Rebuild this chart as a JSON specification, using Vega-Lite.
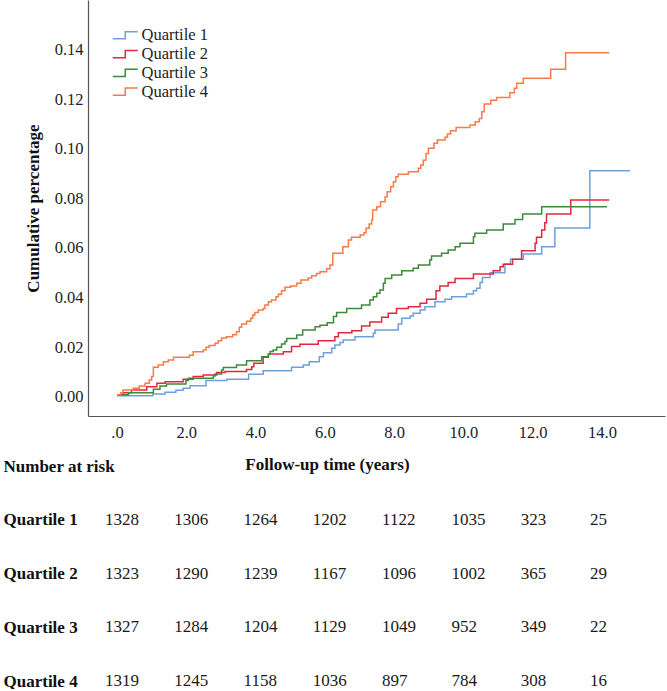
{
  "$schema": "https://vega.github.io/schema/vega-lite/v6.json",
  "background": "white",
  "padding": {"left": 3, "top": 0, "right": 2, "bottom": 0},
  "bounds": "flush",
  "spacing": 50,
  "config": {"view": {"stroke": null}, "font": "Liberation Serif"},
  "datasets": {
    "km": [
      {"g": "Quartile 1", "t": 0, "v": 0.0004},
      {"g": "Quartile 1", "t": 1.03, "v": 0.0011},
      {"g": "Quartile 1", "t": 1.39, "v": 0.0018},
      {"g": "Quartile 1", "t": 1.70, "v": 0.0026},
      {"g": "Quartile 1", "t": 1.91, "v": 0.0034},
      {"g": "Quartile 1", "t": 2.11, "v": 0.0044},
      {"g": "Quartile 1", "t": 2.57, "v": 0.0065},
      {"g": "Quartile 1", "t": 3.17, "v": 0.0070},
      {"g": "Quartile 1", "t": 3.80, "v": 0.0090},
      {"g": "Quartile 1", "t": 4.22, "v": 0.0105},
      {"g": "Quartile 1", "t": 5.04, "v": 0.0119},
      {"g": "Quartile 1", "t": 5.38, "v": 0.0128},
      {"g": "Quartile 1", "t": 5.55, "v": 0.0141},
      {"g": "Quartile 1", "t": 5.84, "v": 0.0161},
      {"g": "Quartile 1", "t": 5.96, "v": 0.0177},
      {"g": "Quartile 1", "t": 6.20, "v": 0.0195},
      {"g": "Quartile 1", "t": 6.29, "v": 0.0208},
      {"g": "Quartile 1", "t": 6.44, "v": 0.0218},
      {"g": "Quartile 1", "t": 6.53, "v": 0.0229},
      {"g": "Quartile 1", "t": 6.87, "v": 0.0242},
      {"g": "Quartile 1", "t": 7.40, "v": 0.0256},
      {"g": "Quartile 1", "t": 7.45, "v": 0.0269},
      {"g": "Quartile 1", "t": 8.12, "v": 0.0293},
      {"g": "Quartile 1", "t": 8.22, "v": 0.0316},
      {"g": "Quartile 1", "t": 8.46, "v": 0.0325},
      {"g": "Quartile 1", "t": 8.55, "v": 0.0336},
      {"g": "Quartile 1", "t": 8.75, "v": 0.0350},
      {"g": "Quartile 1", "t": 8.89, "v": 0.0363},
      {"g": "Quartile 1", "t": 9.18, "v": 0.0383},
      {"g": "Quartile 1", "t": 9.47, "v": 0.0393},
      {"g": "Quartile 1", "t": 9.66, "v": 0.0403},
      {"g": "Quartile 1", "t": 10.09, "v": 0.0414},
      {"g": "Quartile 1", "t": 10.29, "v": 0.0427},
      {"g": "Quartile 1", "t": 10.38, "v": 0.0437},
      {"g": "Quartile 1", "t": 10.48, "v": 0.0460},
      {"g": "Quartile 1", "t": 10.55, "v": 0.0481},
      {"g": "Quartile 1", "t": 10.77, "v": 0.0500},
      {"g": "Quartile 1", "t": 11.20, "v": 0.0535},
      {"g": "Quartile 1", "t": 11.36, "v": 0.0554},
      {"g": "Quartile 1", "t": 11.73, "v": 0.0575},
      {"g": "Quartile 1", "t": 12.26, "v": 0.0605},
      {"g": "Quartile 1", "t": 12.64, "v": 0.0680},
      {"g": "Quartile 1", "t": 13.65, "v": 0.0911},
      {"g": "Quartile 1", "t": 14.81, "v": 0.0911},

      {"g": "Quartile 2", "t": 0, "v": 0.0008},
      {"g": "Quartile 2", "t": 0.18, "v": 0.0016},
      {"g": "Quartile 2", "t": 0.42, "v": 0.0027},
      {"g": "Quartile 2", "t": 0.86, "v": 0.0040},
      {"g": "Quartile 2", "t": 1.15, "v": 0.0054},
      {"g": "Quartile 2", "t": 1.39, "v": 0.0060},
      {"g": "Quartile 2", "t": 1.91, "v": 0.0070},
      {"g": "Quartile 2", "t": 2.20, "v": 0.0081},
      {"g": "Quartile 2", "t": 2.49, "v": 0.0087},
      {"g": "Quartile 2", "t": 2.88, "v": 0.0097},
      {"g": "Quartile 2", "t": 3.12, "v": 0.0101},
      {"g": "Quartile 2", "t": 3.74, "v": 0.0110},
      {"g": "Quartile 2", "t": 3.89, "v": 0.0121},
      {"g": "Quartile 2", "t": 3.95, "v": 0.0135},
      {"g": "Quartile 2", "t": 4.22, "v": 0.0159},
      {"g": "Quartile 2", "t": 4.37, "v": 0.0172},
      {"g": "Quartile 2", "t": 4.80, "v": 0.0181},
      {"g": "Quartile 2", "t": 5.04, "v": 0.0202},
      {"g": "Quartile 2", "t": 5.28, "v": 0.0211},
      {"g": "Quartile 2", "t": 5.81, "v": 0.0226},
      {"g": "Quartile 2", "t": 6.29, "v": 0.0242},
      {"g": "Quartile 2", "t": 6.39, "v": 0.0258},
      {"g": "Quartile 2", "t": 6.78, "v": 0.0266},
      {"g": "Quartile 2", "t": 7.06, "v": 0.0285},
      {"g": "Quartile 2", "t": 7.30, "v": 0.0301},
      {"g": "Quartile 2", "t": 7.64, "v": 0.0320},
      {"g": "Quartile 2", "t": 7.83, "v": 0.0336},
      {"g": "Quartile 2", "t": 8.07, "v": 0.0356},
      {"g": "Quartile 2", "t": 8.41, "v": 0.0363},
      {"g": "Quartile 2", "t": 8.75, "v": 0.0377},
      {"g": "Quartile 2", "t": 8.94, "v": 0.0393},
      {"g": "Quartile 2", "t": 9.21, "v": 0.0427},
      {"g": "Quartile 2", "t": 9.32, "v": 0.0446},
      {"g": "Quartile 2", "t": 9.56, "v": 0.0460},
      {"g": "Quartile 2", "t": 9.76, "v": 0.0477},
      {"g": "Quartile 2", "t": 10.29, "v": 0.0495},
      {"g": "Quartile 2", "t": 10.86, "v": 0.0508},
      {"g": "Quartile 2", "t": 11.06, "v": 0.0524},
      {"g": "Quartile 2", "t": 11.15, "v": 0.0534},
      {"g": "Quartile 2", "t": 11.42, "v": 0.0554},
      {"g": "Quartile 2", "t": 11.68, "v": 0.0589},
      {"g": "Quartile 2", "t": 12.07, "v": 0.0619},
      {"g": "Quartile 2", "t": 12.11, "v": 0.0643},
      {"g": "Quartile 2", "t": 12.26, "v": 0.0672},
      {"g": "Quartile 2", "t": 12.35, "v": 0.0702},
      {"g": "Quartile 2", "t": 12.40, "v": 0.0737},
      {"g": "Quartile 2", "t": 13.10, "v": 0.0793},
      {"g": "Quartile 2", "t": 14.21, "v": 0.0793},

      {"g": "Quartile 3", "t": 0, "v": 0.0008},
      {"g": "Quartile 3", "t": 0.33, "v": 0.0016},
      {"g": "Quartile 3", "t": 1.05, "v": 0.0030},
      {"g": "Quartile 3", "t": 1.24, "v": 0.0043},
      {"g": "Quartile 3", "t": 1.43, "v": 0.0051},
      {"g": "Quartile 3", "t": 1.99, "v": 0.0065},
      {"g": "Quartile 3", "t": 2.06, "v": 0.0074},
      {"g": "Quartile 3", "t": 2.78, "v": 0.0083},
      {"g": "Quartile 3", "t": 2.83, "v": 0.0091},
      {"g": "Quartile 3", "t": 3.02, "v": 0.0108},
      {"g": "Quartile 3", "t": 3.07, "v": 0.0118},
      {"g": "Quartile 3", "t": 3.45, "v": 0.0128},
      {"g": "Quartile 3", "t": 3.74, "v": 0.0145},
      {"g": "Quartile 3", "t": 4.18, "v": 0.0161},
      {"g": "Quartile 3", "t": 4.37, "v": 0.0171},
      {"g": "Quartile 3", "t": 4.42, "v": 0.0182},
      {"g": "Quartile 3", "t": 4.51, "v": 0.0188},
      {"g": "Quartile 3", "t": 4.61, "v": 0.0199},
      {"g": "Quartile 3", "t": 4.75, "v": 0.0212},
      {"g": "Quartile 3", "t": 4.85, "v": 0.0223},
      {"g": "Quartile 3", "t": 4.90, "v": 0.0235},
      {"g": "Quartile 3", "t": 5.19, "v": 0.0249},
      {"g": "Quartile 3", "t": 5.36, "v": 0.0269},
      {"g": "Quartile 3", "t": 5.72, "v": 0.0282},
      {"g": "Quartile 3", "t": 5.86, "v": 0.0288},
      {"g": "Quartile 3", "t": 6.07, "v": 0.0298},
      {"g": "Quartile 3", "t": 6.25, "v": 0.0323},
      {"g": "Quartile 3", "t": 6.34, "v": 0.0339},
      {"g": "Quartile 3", "t": 6.63, "v": 0.0356},
      {"g": "Quartile 3", "t": 7.06, "v": 0.0370},
      {"g": "Quartile 3", "t": 7.30, "v": 0.0390},
      {"g": "Quartile 3", "t": 7.40, "v": 0.0403},
      {"g": "Quartile 3", "t": 7.50, "v": 0.0417},
      {"g": "Quartile 3", "t": 7.59, "v": 0.0430},
      {"g": "Quartile 3", "t": 7.69, "v": 0.0457},
      {"g": "Quartile 3", "t": 7.74, "v": 0.0477},
      {"g": "Quartile 3", "t": 7.93, "v": 0.0491},
      {"g": "Quartile 3", "t": 8.22, "v": 0.0508},
      {"g": "Quartile 3", "t": 8.55, "v": 0.0518},
      {"g": "Quartile 3", "t": 8.70, "v": 0.0531},
      {"g": "Quartile 3", "t": 9.03, "v": 0.0551},
      {"g": "Quartile 3", "t": 9.08, "v": 0.0567},
      {"g": "Quartile 3", "t": 9.37, "v": 0.0578},
      {"g": "Quartile 3", "t": 9.56, "v": 0.0592},
      {"g": "Quartile 3", "t": 9.76, "v": 0.0605},
      {"g": "Quartile 3", "t": 9.90, "v": 0.0619},
      {"g": "Quartile 3", "t": 10.29, "v": 0.0645},
      {"g": "Quartile 3", "t": 10.33, "v": 0.0659},
      {"g": "Quartile 3", "t": 10.67, "v": 0.0672},
      {"g": "Quartile 3", "t": 11.15, "v": 0.0696},
      {"g": "Quartile 3", "t": 11.49, "v": 0.0715},
      {"g": "Quartile 3", "t": 11.71, "v": 0.0737},
      {"g": "Quartile 3", "t": 12.26, "v": 0.0766},
      {"g": "Quartile 3", "t": 14.15, "v": 0.0766},

      {"g": "Quartile 4", "t": 0, "v": 0.0008},
      {"g": "Quartile 4", "t": 0.11, "v": 0.0016},
      {"g": "Quartile 4", "t": 0.17, "v": 0.0027},
      {"g": "Quartile 4", "t": 0.47, "v": 0.0034},
      {"g": "Quartile 4", "t": 0.64, "v": 0.0043},
      {"g": "Quartile 4", "t": 0.81, "v": 0.0054},
      {"g": "Quartile 4", "t": 0.93, "v": 0.0067},
      {"g": "Quartile 4", "t": 1.00, "v": 0.0081},
      {"g": "Quartile 4", "t": 1.05, "v": 0.0119},
      {"g": "Quartile 4", "t": 1.19, "v": 0.0128},
      {"g": "Quartile 4", "t": 1.34, "v": 0.0141},
      {"g": "Quartile 4", "t": 1.48, "v": 0.0148},
      {"g": "Quartile 4", "t": 1.63, "v": 0.0159},
      {"g": "Quartile 4", "t": 2.09, "v": 0.0167},
      {"g": "Quartile 4", "t": 2.20, "v": 0.0181},
      {"g": "Quartile 4", "t": 2.49, "v": 0.0188},
      {"g": "Quartile 4", "t": 2.57, "v": 0.0199},
      {"g": "Quartile 4", "t": 2.66, "v": 0.0206},
      {"g": "Quartile 4", "t": 2.83, "v": 0.0215},
      {"g": "Quartile 4", "t": 2.92, "v": 0.0226},
      {"g": "Quartile 4", "t": 3.02, "v": 0.0237},
      {"g": "Quartile 4", "t": 3.16, "v": 0.0242},
      {"g": "Quartile 4", "t": 3.34, "v": 0.0250},
      {"g": "Quartile 4", "t": 3.45, "v": 0.0262},
      {"g": "Quartile 4", "t": 3.53, "v": 0.0280},
      {"g": "Quartile 4", "t": 3.60, "v": 0.0293},
      {"g": "Quartile 4", "t": 3.74, "v": 0.0304},
      {"g": "Quartile 4", "t": 3.86, "v": 0.0316},
      {"g": "Quartile 4", "t": 3.92, "v": 0.0329},
      {"g": "Quartile 4", "t": 3.98, "v": 0.0339},
      {"g": "Quartile 4", "t": 4.08, "v": 0.0350},
      {"g": "Quartile 4", "t": 4.22, "v": 0.0356},
      {"g": "Quartile 4", "t": 4.27, "v": 0.0370},
      {"g": "Quartile 4", "t": 4.37, "v": 0.0383},
      {"g": "Quartile 4", "t": 4.46, "v": 0.0390},
      {"g": "Quartile 4", "t": 4.59, "v": 0.0403},
      {"g": "Quartile 4", "t": 4.66, "v": 0.0413},
      {"g": "Quartile 4", "t": 4.75, "v": 0.0427},
      {"g": "Quartile 4", "t": 4.85, "v": 0.0441},
      {"g": "Quartile 4", "t": 5.01, "v": 0.0446},
      {"g": "Quartile 4", "t": 5.19, "v": 0.0457},
      {"g": "Quartile 4", "t": 5.31, "v": 0.0471},
      {"g": "Quartile 4", "t": 5.52, "v": 0.0479},
      {"g": "Quartile 4", "t": 5.62, "v": 0.0488},
      {"g": "Quartile 4", "t": 5.76, "v": 0.0497},
      {"g": "Quartile 4", "t": 5.86, "v": 0.0504},
      {"g": "Quartile 4", "t": 6.05, "v": 0.0516},
      {"g": "Quartile 4", "t": 6.15, "v": 0.0531},
      {"g": "Quartile 4", "t": 6.23, "v": 0.0578},
      {"g": "Quartile 4", "t": 6.52, "v": 0.0605},
      {"g": "Quartile 4", "t": 6.68, "v": 0.0632},
      {"g": "Quartile 4", "t": 6.77, "v": 0.0643},
      {"g": "Quartile 4", "t": 7.02, "v": 0.0652},
      {"g": "Quartile 4", "t": 7.13, "v": 0.0661},
      {"g": "Quartile 4", "t": 7.19, "v": 0.0679},
      {"g": "Quartile 4", "t": 7.28, "v": 0.0696},
      {"g": "Quartile 4", "t": 7.35, "v": 0.0713},
      {"g": "Quartile 4", "t": 7.38, "v": 0.0753},
      {"g": "Quartile 4", "t": 7.50, "v": 0.0766},
      {"g": "Quartile 4", "t": 7.61, "v": 0.0786},
      {"g": "Quartile 4", "t": 7.74, "v": 0.0806},
      {"g": "Quartile 4", "t": 7.80, "v": 0.0827},
      {"g": "Quartile 4", "t": 7.90, "v": 0.0847},
      {"g": "Quartile 4", "t": 7.98, "v": 0.0867},
      {"g": "Quartile 4", "t": 8.05, "v": 0.0887},
      {"g": "Quartile 4", "t": 8.12, "v": 0.0897},
      {"g": "Quartile 4", "t": 8.41, "v": 0.0907},
      {"g": "Quartile 4", "t": 8.70, "v": 0.0921},
      {"g": "Quartile 4", "t": 8.77, "v": 0.0934},
      {"g": "Quartile 4", "t": 8.84, "v": 0.0954},
      {"g": "Quartile 4", "t": 8.92, "v": 0.0981},
      {"g": "Quartile 4", "t": 8.99, "v": 0.1002},
      {"g": "Quartile 4", "t": 9.15, "v": 0.1022},
      {"g": "Quartile 4", "t": 9.25, "v": 0.1035},
      {"g": "Quartile 4", "t": 9.47, "v": 0.1046},
      {"g": "Quartile 4", "t": 9.54, "v": 0.1059},
      {"g": "Quartile 4", "t": 9.63, "v": 0.1073},
      {"g": "Quartile 4", "t": 9.79, "v": 0.1086},
      {"g": "Quartile 4", "t": 10.19, "v": 0.1096},
      {"g": "Quartile 4", "t": 10.34, "v": 0.1109},
      {"g": "Quartile 4", "t": 10.46, "v": 0.1122},
      {"g": "Quartile 4", "t": 10.53, "v": 0.1149},
      {"g": "Quartile 4", "t": 10.60, "v": 0.1180},
      {"g": "Quartile 4", "t": 10.79, "v": 0.1196},
      {"g": "Quartile 4", "t": 10.96, "v": 0.1207},
      {"g": "Quartile 4", "t": 11.34, "v": 0.1226},
      {"g": "Quartile 4", "t": 11.47, "v": 0.1244},
      {"g": "Quartile 4", "t": 11.54, "v": 0.1264},
      {"g": "Quartile 4", "t": 11.73, "v": 0.1284},
      {"g": "Quartile 4", "t": 12.52, "v": 0.1321},
      {"g": "Quartile 4", "t": 12.95, "v": 0.1387},
      {"g": "Quartile 4", "t": 14.21, "v": 0.1387}
    ],
    "risk": [
      {"row": "Quartile 1", "t": 0, "n": 1328}, {"row": "Quartile 1", "t": 2, "n": 1306}, {"row": "Quartile 1", "t": 4, "n": 1264}, {"row": "Quartile 1", "t": 6, "n": 1202},
      {"row": "Quartile 1", "t": 8, "n": 1122}, {"row": "Quartile 1", "t": 10, "n": 1035}, {"row": "Quartile 1", "t": 12, "n": 323}, {"row": "Quartile 1", "t": 14, "n": 25},
      {"row": "Quartile 2", "t": 0, "n": 1323}, {"row": "Quartile 2", "t": 2, "n": 1290}, {"row": "Quartile 2", "t": 4, "n": 1239}, {"row": "Quartile 2", "t": 6, "n": 1167},
      {"row": "Quartile 2", "t": 8, "n": 1096}, {"row": "Quartile 2", "t": 10, "n": 1002}, {"row": "Quartile 2", "t": 12, "n": 365}, {"row": "Quartile 2", "t": 14, "n": 29},
      {"row": "Quartile 3", "t": 0, "n": 1327}, {"row": "Quartile 3", "t": 2, "n": 1284}, {"row": "Quartile 3", "t": 4, "n": 1204}, {"row": "Quartile 3", "t": 6, "n": 1129},
      {"row": "Quartile 3", "t": 8, "n": 1049}, {"row": "Quartile 3", "t": 10, "n": 952}, {"row": "Quartile 3", "t": 12, "n": 349}, {"row": "Quartile 3", "t": 14, "n": 22},
      {"row": "Quartile 4", "t": 0, "n": 1319}, {"row": "Quartile 4", "t": 2, "n": 1245}, {"row": "Quartile 4", "t": 4, "n": 1158}, {"row": "Quartile 4", "t": 6, "n": 1036},
      {"row": "Quartile 4", "t": 8, "n": 897}, {"row": "Quartile 4", "t": 10, "n": 784}, {"row": "Quartile 4", "t": 12, "n": 308}, {"row": "Quartile 4", "t": 14, "n": 16}
    ]
  },
  "vconcat": [
    {
      "width": 577,
      "height": 416,
      "data": {"name": "km"},
      "mark": {"type": "line", "interpolate": "step-after", "strokeWidth": 1.5},
      "encoding": {
        "x": {
          "field": "t", "type": "quantitative",
          "scale": {"domain": [-0.837, 15.82], "nice": false, "zero": false},
          "axis": {
            "values": [0, 2, 4, 6, 8, 10, 12, 14],
            "labelExpr": "datum.value == 0 ? '.0' : format(datum.value, '.1f')",
            "ticks": false, "grid": false,
            "domainColor": "#555", "domainWidth": 1.2,
            "labelFont": "Liberation Serif", "labelFontSize": 16.5, "labelColor": "#222",
            "labelPadding": 8,
            "title": "Follow-up time (years)",
            "titleFont": "Liberation Serif", "titleFontSize": 17, "titleFontWeight": "bold",
            "titleColor": "#111", "titleX": 239, "titleY": 40
          }
        },
        "y": {
          "field": "v", "type": "quantitative",
          "scale": {"domain": [-0.0078, 0.16], "nice": false, "zero": false},
          "axis": {
            "values": [0, 0.02, 0.04, 0.06, 0.08, 0.1, 0.12, 0.14],
            "format": ".2f",
            "ticks": false, "grid": false,
            "domainColor": "#555", "domainWidth": 1.2,
            "labelFont": "Liberation Serif", "labelFontSize": 16.5, "labelColor": "#222",
            "labelPadding": 5,
            "title": "Cumulative percentage",
            "titleFont": "Liberation Serif", "titleFontSize": 17, "titleFontWeight": "bold",
            "titleColor": "#111", "titlePadding": 12
          }
        },
        "color": {
          "field": "g", "type": "nominal",
          "scale": {
            "domain": ["Quartile 1", "Quartile 2", "Quartile 3", "Quartile 4"],
            "range": ["#6f9fdc", "#e2283f", "#3b8b3b", "#fa7a48"]
          },
          "legend": {
            "title": null,
            "orient": "none", "legendX": 29, "legendY": 27,
            "symbolType": "M-2,0.58H0V-0.58H2",
            "symbolSize": 156,
            "symbolStrokeWidth": 1.5,
            "symbolFillColor": "transparent",
            "labelFont": "Liberation Serif", "labelFontSize": 16.5, "labelColor": "#222",
            "labelOffset": 8,
            "rowPadding": 1.8
          }
        }
      }
    },
    {
      "width": 577,
      "height": 215,
      "data": {"name": "risk"},
      "mark": {"type": "text", "align": "left", "baseline": "middle", "dx": -12, "font": "Liberation Serif", "fontSize": 17, "color": "#1a1a1a"},
      "encoding": {
        "x": {
          "field": "t", "type": "quantitative",
          "scale": {"domain": [-0.837, 15.82], "nice": false, "zero": false},
          "axis": null
        },
        "y": {
          "field": "row", "type": "ordinal",
          "scale": {"type": "point", "padding": 0, "domain": ["Number at risk", "Quartile 1", "Quartile 2", "Quartile 3", "Quartile 4"]},
          "axis": {
            "title": null, "domain": false, "ticks": false, "grid": false,
            "labelAlign": "left", "labelPadding": 85,
            "labelFont": "Liberation Serif", "labelFontSize": 17, "labelFontWeight": "bold", "labelColor": "#111"
          }
        },
        "text": {"field": "n", "type": "quantitative"}
      }
    }
  ]
}
